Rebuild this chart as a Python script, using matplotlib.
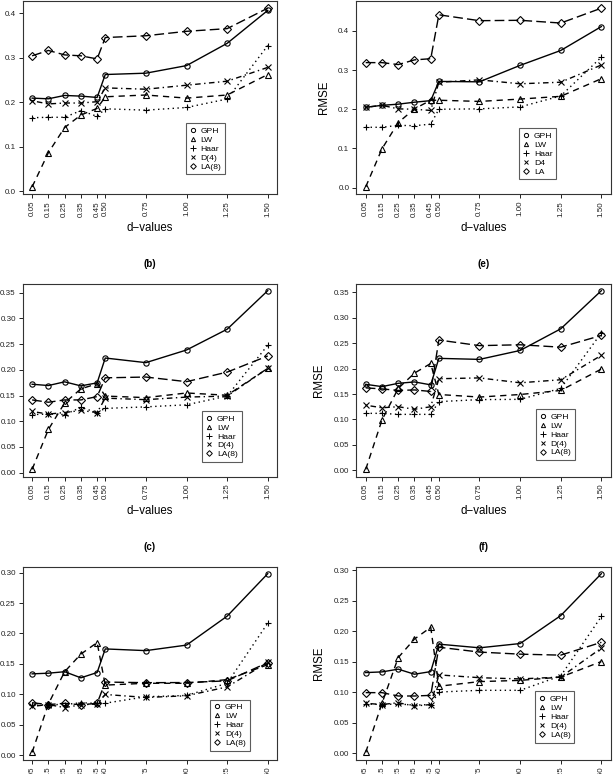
import matplotlib
matplotlib.use("Agg")
import matplotlib.pyplot as plt
from matplotlib.ticker import FormatStrFormatter

plt.rcParams["font.family"] = ["Liberation Sans", "DejaVu Sans"]

# -------------------------
# DATA
# -------------------------
d_values = [0.05, 0.15, 0.25, 0.35, 0.45, 0.50, 0.75, 1.00, 1.25, 1.50]
d_labels = ["0.05", "0.15", "0.25", "0.35", "0.45", "0.50", "0.75", "1.00", "1.25", "1.50"]

# top left (title cut off)
gph_a = [0.209, 0.2075, 0.215, 0.2135, 0.2105, 0.262, 0.265, 0.282, 0.332, 0.406]
lw_a = [0.0098, 0.0865, 0.143, 0.171, 0.186, 0.212, 0.216, 0.209, 0.216, 0.262]
haar_a = [0.165, 0.166, 0.166, 0.181, 0.168, 0.185, 0.182, 0.188, 0.207, 0.327]
d4_a = [0.203, 0.196, 0.198, 0.198, 0.201, 0.232, 0.229, 0.238, 0.247, 0.278]
la_a = [0.304, 0.316, 0.306, 0.304, 0.297, 0.345, 0.349, 0.359, 0.365, 0.411]

# top right (title cut off)
gph_d = [0.205, 0.21, 0.213, 0.218, 0.222, 0.271, 0.270, 0.312, 0.350, 0.411]
lw_d = [0.002, 0.099, 0.166, 0.201, 0.223, 0.223, 0.220, 0.226, 0.233, 0.278]
haar_d = [0.154, 0.154, 0.159, 0.158, 0.162, 0.200, 0.201, 0.206, 0.234, 0.333]
d4_d = [0.205, 0.21, 0.201, 0.200, 0.197, 0.269, 0.275, 0.265, 0.269, 0.313]
la_d = [0.319, 0.319, 0.314, 0.326, 0.329, 0.441, 0.426, 0.427, 0.420, 0.458]

# (b)
gph_b = [0.172, 0.1695, 0.1767, 0.1688, 0.1747, 0.223, 0.214, 0.2386, 0.279, 0.354]
lw_b = [0.0065, 0.084, 0.1356, 0.163, 0.173, 0.149, 0.146, 0.155, 0.1506, 0.203]
haar_b = [0.113, 0.114, 0.113, 0.127, 0.117, 0.125, 0.128, 0.132, 0.149, 0.248]
d4_b = [0.119, 0.114, 0.117, 0.121, 0.117, 0.145, 0.142, 0.147, 0.149, 0.203]
la_b = [0.1415, 0.137, 0.1415, 0.1415, 0.148, 0.1845, 0.186, 0.177, 0.1956, 0.227]

# (e)
gph_e = [0.169, 0.1645, 0.171, 0.1737, 0.168, 0.22, 0.218, 0.2355, 0.278, 0.353]
lw_e = [0.002, 0.099, 0.161, 0.191, 0.21, 0.149, 0.144, 0.149, 0.157, 0.199]
haar_e = [0.112, 0.112, 0.11, 0.11, 0.11, 0.135, 0.139, 0.1395, 0.161, 0.27]
d4_e = [0.128, 0.123, 0.125, 0.120, 0.125, 0.180, 0.1816, 0.172, 0.178, 0.226]
la_e = [0.162, 0.16, 0.157, 0.158, 0.155, 0.256, 0.245, 0.2467, 0.242, 0.265]

# (c)
gph_c = [0.1335, 0.1346, 0.137, 0.127, 0.1357, 0.1745, 0.1717, 0.1808, 0.2284, 0.2983]
lw_c = [0.0044, 0.084, 0.137, 0.166, 0.185, 0.115, 0.118, 0.118, 0.124, 0.1486]
haar_c = [0.0815, 0.083, 0.083, 0.086, 0.085, 0.0853, 0.0958, 0.098, 0.118, 0.217]
d4_c = [0.080, 0.083, 0.078, 0.0826, 0.084, 0.0996, 0.0947, 0.0974, 0.112, 0.1525]
la_c = [0.086, 0.083, 0.085, 0.0826, 0.085, 0.120, 0.119, 0.1192, 0.122, 0.152]

# (f)
gph_f = [0.1324, 0.1335, 0.138, 0.1297, 0.134, 0.179, 0.173, 0.180, 0.2258, 0.2946]
lw_f = [0.0016, 0.082, 0.157, 0.1874, 0.2066, 0.110, 0.1176, 0.1196, 0.125, 0.1505]
haar_f = [0.081, 0.080, 0.081, 0.079, 0.080, 0.1005, 0.1033, 0.1033, 0.127, 0.2244]
d4_f = [0.082, 0.080, 0.083, 0.0775, 0.080, 0.1286, 0.124, 0.122, 0.125, 0.1725]
la_f = [0.0995, 0.0995, 0.094, 0.094, 0.095, 0.174, 0.166, 0.1626, 0.161, 0.182]

names_long = ["GPH", "LW", "Haar", "D(4)", "LA(8)"]
names_short = ["GPH", "LW", "Haar", "D4", "LA"]

# -------------------------
# STYLE (R-like lty / pch)
# -------------------------
markers = ["o", "^", "+", "x", "D"]
marker_sizes = [3.8, 3.8, 5.0, 4.0, 3.6]
dashes = [None, (4.5, 3.5), (1.0, 2.5), (1.0, 2.5, 4.0, 2.5), (7.0, 3.0)]

W, H = 615, 774
COL_X = [22.7, 356.3]
ROW_TOP = [1.0, 283.5, 566.5]
BOX_W, BOX_H = 254.5, 193.0


def draw_panel(col, row, series, names, title, ylabel, yfmt, yticks, leg_xy):
    left = COL_X[col] / W
    bottom = (H - ROW_TOP[row] - BOX_H) / H
    ax = fig.add_axes([left, bottom, BOX_W / W, BOX_H / H])

    for i, vals in enumerate(series):
        line, = ax.plot(d_values, vals, color="black", lw=1.0,
                        marker=markers[i], ms=marker_sizes[i],
                        mfc="none", mec="black", mew=0.8)
        if dashes[i] is not None:
            line.set_dashes(dashes[i])

    ax.margins(x=0.04, y=0.04)
    ax.set_xticks(d_values)
    ax.set_xticklabels(d_labels, rotation=90, fontsize=5.8)
    ax.set_yticks(yticks)
    ax.yaxis.set_major_formatter(FormatStrFormatter(yfmt))
    ax.tick_params(axis="both", length=3, width=0.7, pad=2, labelsize=5.8,
                   colors="#222222")
    for s in ax.spines.values():
        s.set_linewidth(0.8)
        s.set_color("#333333")

    ax.set_xlabel("d\u2212values", fontsize=8.3, labelpad=4)
    if ylabel:
        ax.set_ylabel(ylabel, fontsize=8.3, labelpad=6)
    if title:
        ax.set_title(title, fontsize=7, fontweight="bold", pad=12)

    handles = [plt.Line2D([], [], color="black", ls="none", marker=markers[i],
                          ms=marker_sizes[i] * 0.8, mfc="none", mew=0.7)
               for i in range(5)]
    leg = ax.legend(handles, names, loc="upper left", bbox_to_anchor=leg_xy,
                    borderaxespad=0, fontsize=6.1, frameon=True, fancybox=False,
                    handlelength=0.8, handletextpad=0.5, labelspacing=0.12,
                    borderpad=0.45)
    leg.get_frame().set_edgecolor("#333333")
    leg.get_frame().set_linewidth(0.8)
    return ax


# -------------------------
# FIGURE
# -------------------------
fig = plt.figure(figsize=(6.15, 7.74), dpi=100)

y_top = [0.0, 0.1, 0.2, 0.3, 0.4]
y_mid = [0.0, 0.05, 0.10, 0.15, 0.20, 0.25, 0.30, 0.35]
y_bot = [0.0, 0.05, 0.10, 0.15, 0.20, 0.25, 0.30]

draw_panel(0, 0, [gph_a, lw_a, haar_a, d4_a, la_a], names_long, None, None,
           "%.1f", y_top, (0.641, 0.368))
draw_panel(1, 0, [gph_d, lw_d, haar_d, d4_d, la_d], names_short, None, "RMSE",
           "%.1f", y_top, (0.640, 0.342))
draw_panel(0, 1, [gph_b, lw_b, haar_b, d4_b, la_b], names_long, "(b)", None,
           "%.2f", y_mid, (0.705, 0.340))
draw_panel(1, 1, [gph_e, lw_e, haar_e, d4_e, la_e], names_long, "(e)", "RMSE",
           "%.2f", y_mid, (0.705, 0.350))
draw_panel(0, 2, [gph_c, lw_c, haar_c, d4_c, la_c], names_long, "(c)", None,
           "%.2f", y_bot, (0.737, 0.310))
draw_panel(1, 2, [gph_f, lw_f, haar_f, d4_f, la_f], names_long, "(f)", "RMSE",
           "%.2f", y_bot, (0.702, 0.354))

fig.savefig("out.png", dpi=100)
